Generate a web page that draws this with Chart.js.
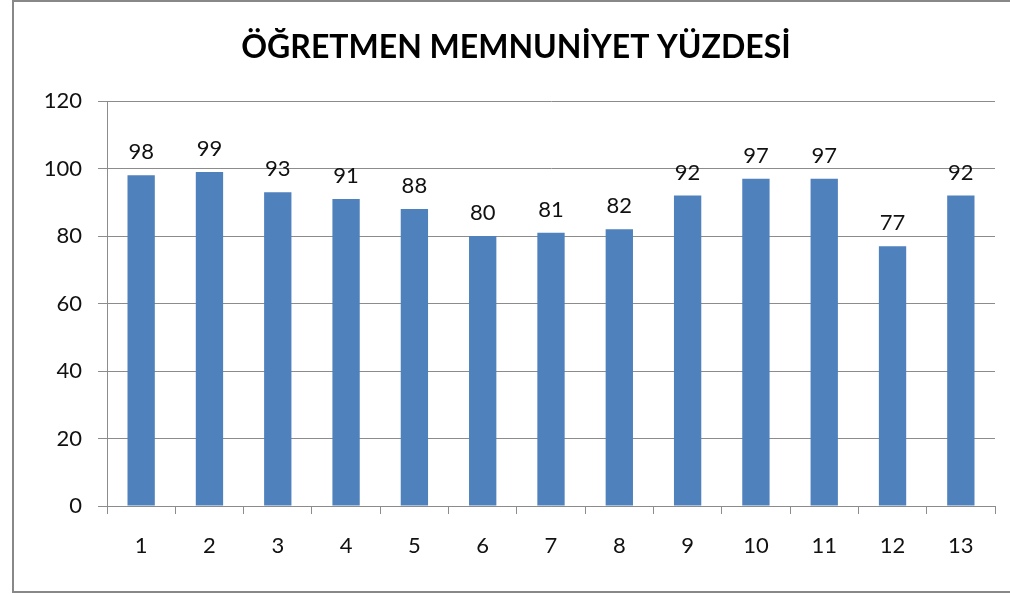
<!DOCTYPE html>
<html>
<head>
<meta charset="utf-8">
<script src="https://cdn.jsdelivr.net/npm/chart.js@4/dist/chart.umd.min.js"></script>
<style>
  html, body { margin: 0; padding: 0; background: #fff; }
  #wrap { width: 1010px; height: 594px; position: relative; }
</style>
</head>
<body>
<div id="wrap"><canvas id="chart" width="1010" height="594"></canvas></div>
<script>
// chart data
const categories = ["1", "2", "3", "4", "5", "6", "7", "8", "9", "10", "11", "12", "13"];
const satisfaction = [98, 99, 93, 91, 88, 80, 81, 82, 92, 97, 97, 77, 92];
const yTicks = [0, 20, 40, 60, 80, 100, 120];
const chartTitle = "ÖĞRETMEN MEMNUNİYET YÜZDESİ";

const FONT = "Lato, 'Open Sans', sans-serif";
const GRID = "#8c8c8c";

// outer frame like the spreadsheet chart border + title
const framePlugin = {
  id: "frame",
  beforeDraw(chart) {
    const c = chart.ctx;
    c.save();
    c.fillStyle = "#fff";
    c.fillRect(0, 0, chart.width, chart.height);
    c.strokeStyle = "#888";
    c.lineWidth = 2;
    c.strokeRect(13, 1, chart.width, chart.height - 3);
    // title, centred a bit right of the plot like the original
    c.font = "bold 32px " + FONT;
    c.fillStyle = "#000";
    c.textAlign = "center";
    c.textBaseline = "alphabetic";
    c.fillText(chartTitle, 516, 58);
    c.restore();
  }
};

// value labels over the bars
const valueLabels = {
  id: "valueLabels",
  afterDatasetsDraw(chart) {
    const c = chart.ctx;
    const meta = chart.getDatasetMeta(0);
    c.save();
    c.font = "22px " + FONT;
    c.fillStyle = "#111";
    c.textAlign = "center";
    c.textBaseline = "alphabetic";
    meta.data.forEach((bar, i) => {
      c.fillText(String(satisfaction[i]), bar.x, bar.y - 16);
    });
    c.restore();
  }
};

new Chart(document.getElementById("chart"), {
  type: "bar",
  data: {
    labels: categories,
    datasets: [{
      data: satisfaction,
      backgroundColor: "#4f81bd",
      borderWidth: 0,
      categoryPercentage: 1,
      barPercentage: 0.4
    }]
  },
  options: {
    responsive: false,
    animation: false,
    layout: { padding: { left: 12, right: 15, top: 101, bottom: 0 } },
    plugins: {
      legend: { display: false },
      tooltip: { enabled: false },
      title: { display: false }
    },
    scales: {
      x: {
        offset: true,
        grid: { offset: true, drawOnChartArea: false, drawTicks: true, tickLength: 8, color: GRID },
        border: { color: GRID, width: 1 },
        ticks: { color: "#111", font: { family: FONT, size: 22 }, padding: 19 },
        afterFit(scale) { scale.height = 88; }
      },
      y: {
        min: 0,
        max: 120,
        afterBuildTicks(scale) { scale.ticks = yTicks.map(v => ({ value: v })); },
        grid: { color: GRID, tickLength: 9 },
        border: { color: GRID, width: 1 },
        ticks: { color: "#111", font: { family: FONT, size: 22 }, padding: 16 },
        afterFit(scale) { scale.width = 95; }
      }
    }
  },
  plugins: [framePlugin, valueLabels]
});
</script>
</body>
</html>
